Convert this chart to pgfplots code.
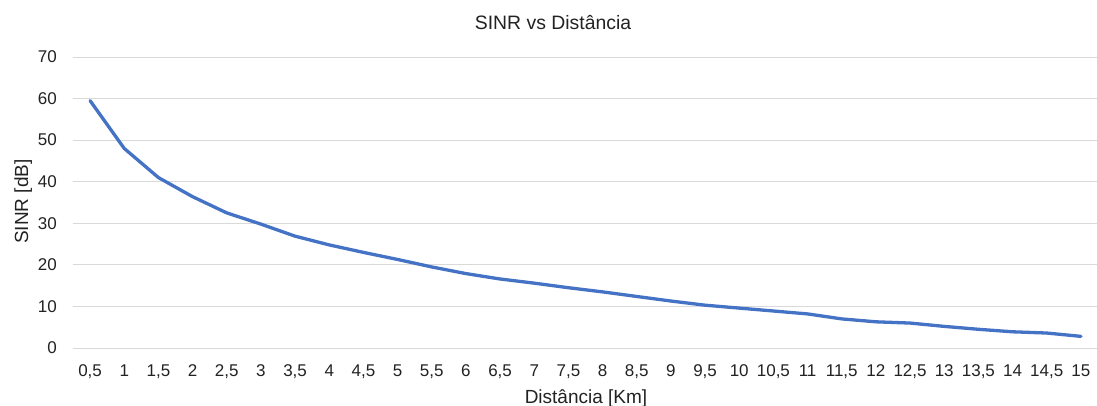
\documentclass[border=0pt]{standalone}
\usepackage{pgfplots}
\pgfplotsset{compat=1.18}
\usepackage{fontspec}
\setmainfont{Liberation Sans}
\definecolor{lineblue}{RGB}{68,114,196}
\definecolor{gridgray}{RGB}{217,217,217}
\definecolor{txt}{RGB}{34,34,34}
\begin{document}
\begin{tikzpicture}[x=1pt,y=1pt]
\path[use as bounding box] (0,0) rectangle (1097,405);
\begin{axis}[
  at={(73pt,57pt)}, anchor=south west,
  scale only axis, width=1025pt, height=291pt,
  xmin=-0.5, xmax=29.5, ymin=0, ymax=70,
  axis line style={draw=none},
  tick style={draw=none},
  ytick={0,10,...,70},
  xtick={0,...,29},
  xticklabels={{0,5},1,{1,5},2,{2,5},3,{3,5},4,{4,5},5,{5,5},6,{6,5},7,{7,5},8,{8,5},9,{9,5},10,{10,5},11,{11,5},12,{12,5},13,{13,5},14,{14,5},15},
  ymajorgrids, grid style={gridgray, line width=1pt},
  ticklabel style={font=\fontsize{17}{19}\selectfont, text=txt, inner sep=0pt},
  /pgf/number format/assume math mode=true,
  yticklabel style={anchor=east, xshift=-16pt},
  xticklabel style={anchor=base, yshift=-28pt},
  every axis title shift=0pt,
  title={SINR vs Distância},
  title style={font=\fontsize{19.4}{22}\selectfont, text=txt, at={(axis description cs:0.4683,1.0962)}, anchor=base, inner sep=0pt},
  xlabel={Distância [Km]},
  ylabel={SINR [dB]},
  label style={font=\fontsize{19}{22}\selectfont, text=txt, inner sep=0pt},
  xlabel style={at={(axis description cs:0.5005,-0.1890)}, anchor=base},
  ylabel style={at={(axis description cs:-0.0439,0.503)}, anchor=base, rotate=0},
]
\addplot[lineblue, line width=3.3pt, line join=round, line cap=round] coordinates {
(0,59.5) (1,48.0) (2,41.0) (3,36.4) (4,32.5) (5,29.8) (6,26.9) (7,24.8) (8,23.0) (9,21.3)
(10,19.5) (11,17.9) (12,16.6) (13,15.6) (14,14.5) (15,13.5) (16,12.4) (17,11.3) (18,10.3) (19,9.6)
(20,8.9) (21,8.2) (22,7.0) (23,6.3) (24,6.0) (25,5.2) (26,4.5) (27,3.9) (28,3.6) (29,2.8)
};
\end{axis}
\end{tikzpicture}
\end{document}
